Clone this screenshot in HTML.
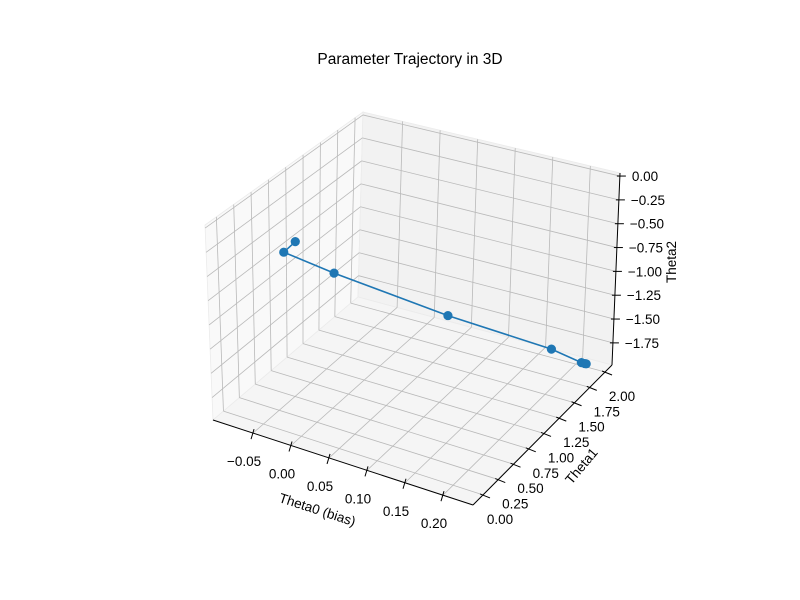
<!DOCTYPE html>
<html><head><meta charset="utf-8"><style>
body{margin:0;background:#fff}
svg{display:block;font-family:"Liberation Sans","DejaVu Sans",sans-serif}
</style></head><body>
<svg id="chart" width="800" height="600" viewBox="0 0 800 600">
<rect width="800" height="600" fill="#fff"/>
<text x="410" y="64" text-anchor="middle" font-size="15.5" fill="#000">Parameter Trajectory in 3D</text>
<g id="panes"></g><g id="grid"></g><g id="axes"></g><g id="series"></g>
<text transform="translate(316,514) rotate(18)" text-anchor="middle" font-size="13.5">Theta0 (bias)</text>
<text transform="translate(585,469) rotate(-50)" text-anchor="middle" font-size="13.5">Theta1</text>
<text transform="translate(676,262) rotate(-90)" text-anchor="middle" font-size="13.5">Theta2</text>
</svg>
<script>
const theta0 = [0, -0.022, 0.015, 0.102, 0.1855, 0.21, 0.213, 0.214];
const theta1 = [0, 0.07, 0.385, 1.108, 1.768, 1.97, 1.99, 2.0];
const theta2 = [0, -0.192, -0.494, -1.146, -1.711, -1.927, -1.943, -1.95];
const xTicks = [-0.05, 0.00, 0.05, 0.10, 0.15, 0.20];
const yTicks = [0.00, 0.25, 0.50, 0.75, 1.00, 1.25, 1.50, 1.75, 2.00];
const zTicks = [0.00, -0.25, -0.50, -0.75, -1.00, -1.25, -1.50, -1.75];
const xLim = [-0.1027, 0.2395], yLim = [-0.164, 2.114], zLim = [-1.982, 0.032];
const C = {'000':[213,420],'100':[473,505],'010':[358,297],'110':[612,365],
 '001':[205,225],'101':[468,298],'011':[363,112],'111':[620,173]};
const NS='http://www.w3.org/2000/svg';
function P(x,y,z){
 const u=(x-xLim[0])/(xLim[1]-xLim[0]), v=(y-yLim[0])/(yLim[1]-yLim[0]), w=(z-zLim[0])/(zLim[1]-zLim[0]);
 let px=0,py=0;
 for(const a of [0,1])for(const b of [0,1])for(const c of [0,1]){
  const wt=(a?u:1-u)*(b?v:1-v)*(c?w:1-w); const p=C[''+a+b+c]; px+=wt*p[0]; py+=wt*p[1];}
 return [px,py];
}
function mk(tag,parent,attrs){const e=document.createElementNS(NS,tag);for(const k in attrs)e.setAttribute(k,attrs[k]);document.getElementById(parent).appendChild(e);return e;}
function line(parent,a,b,stroke,w,name){const e=mk('line',parent,{x1:a[0],y1:a[1],x2:b[0],y2:b[1],stroke:stroke,'stroke-width':w});

return e;}
function poly(pts,fill,name){const e=mk('polygon','panes',{points:pts.map(p=>C[p].join(',')).join(' '),fill:fill,stroke:'#ebebeb','stroke-width':0.8});

}
poly(['000','010','011','001'],'#f9f9f9','left-pane');
poly(['010','110','111','011'],'#f2f2f2','back-pane');
poly(['000','100','110','010'],'#f5f5f5','floor-pane');
const [X0,X1]=xLim,[Y0,Y1]=yLim,[Z0,Z1]=zLim, g='#b9b9b9';
xTicks.forEach(t=>{line('grid',P(t,Y0,Z0),P(t,Y1,Z0),g,0.8,'x-grid-floor');line('grid',P(t,Y1,Z0),P(t,Y1,Z1),g,0.8,'x-grid-back');});
yTicks.forEach(t=>{line('grid',P(X0,t,Z0),P(X1,t,Z0),g,0.8,'y-grid-floor');line('grid',P(X0,t,Z0),P(X0,t,Z1),g,0.8,'y-grid-left');});
zTicks.forEach(t=>{line('grid',P(X0,Y0,t),P(X0,Y1,t),g,0.8,'z-grid-left');line('grid',P(X0,Y1,t),P(X1,Y1,t),g,0.8,'z-grid-back');});
line('axes',C['000'],C['100'],'#000',1,'x-axis-line');
line('axes',C['100'],C['110'],'#000',1,'y-axis-line');
line('axes',C['110'],C['111'],'#000',1,'z-axis-line');
function lbl(x,y,txt,anchor,name){const e=mk('text','axes',{x:x,y:y,'text-anchor':anchor,'font-size':13.5,fill:'#000'});e.textContent=txt;

}
const fmt=v=>(v<0?'\u2212':'')+Math.abs(v).toFixed(2);
xTicks.forEach(t=>{const p=P(t,Y0,Z0);line('axes',[p[0]+1,p[1]-4],[p[0]-2,p[1]+6],'#000',1,'x-tick');lbl(p[0]-9,p[1]+33,fmt(t),'middle','x-tick-label');});
yTicks.forEach(t=>{const p=P(X1,t,Z0);line('axes',[p[0]-3,p[1]-1],[p[0]+7,p[1]+3],'#000',1,'y-tick');lbl(p[0]+17,p[1]+29,fmt(t),'middle','y-tick-label');});
zTicks.forEach(t=>{const p=P(X1,Y1,t);line('axes',[p[0]-3,p[1]],[p[0]+6,p[1]],'#000',1,'z-tick');lbl(p[0]+12,p[1]+5,fmt(t),'start','z-tick-label');});
const pts=theta0.map((v,i)=>P(v,theta1[i],theta2[i]));
const pl=mk('polyline','series',{points:pts.map(p=>p.join(',')).join(' '),fill:'none',stroke:'#1f77b4','stroke-width':1.6});


pts.forEach(p=>{const c=mk('circle','series',{cx:p[0],cy:p[1],r:4.6,fill:'#1f77b4'});

});
</script>
</body></html>
